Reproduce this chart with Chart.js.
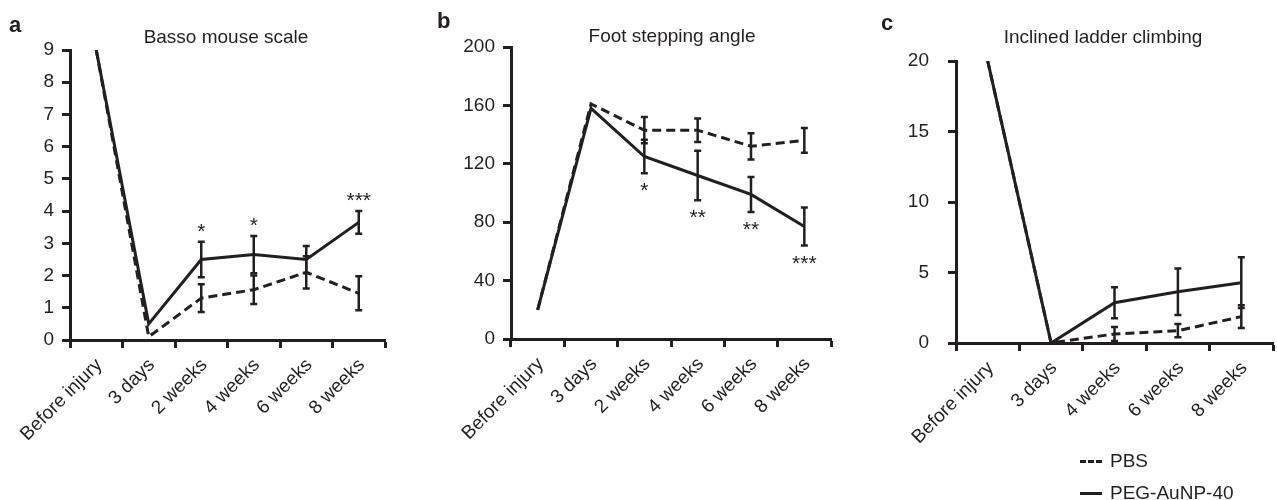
<!DOCTYPE html>
<html>
<head>
<meta charset="utf-8">
<script src="https://cdn.jsdelivr.net/npm/chart.js@4.4.1/dist/chart.umd.min.js"></script>
<style>
  body { margin: 0; background: #fff; font-family: "Liberation Sans", Arial, Helvetica, sans-serif; color: #231f20; }
  #wrap { position: relative; width: 1277px; height: 500px; overflow: hidden; }
  canvas { position: absolute; top: 0; }
  .letter { position: absolute; font-weight: bold; font-size: 22px; line-height: 1; }
  .title { position: absolute; font-size: 19px; line-height: 1; transform: translateX(-50%); white-space: nowrap; }
  .leg { position: absolute; font-size: 19px; line-height: 1; white-space: nowrap; }
  .leg span { display: inline-block; width: 22px; vertical-align: middle; margin-right: 8px; border-top: 3px solid #231f20; }
  .leg span.dash { border-top-style: dashed; }
</style>
</head>
<body>
<div id="wrap">
  <canvas id="bmsChart" width="430" height="500" style="left:0"></canvas>
  <canvas id="fsaChart" width="430" height="500" style="left:430px"></canvas>
  <canvas id="ilcChart" width="417" height="500" style="left:860px"></canvas>

  <div class="letter" style="left:9px;top:14px">a</div>
  <div class="letter" style="left:437px;top:10px">b</div>
  <div class="letter" style="left:881px;top:12px">c</div>

  <div class="title" style="left:226px;top:27px">Basso mouse scale</div>
  <div class="title" style="left:672px;top:26px">Foot stepping angle</div>
  <div class="title" style="left:1103px;top:27px">Inclined ladder climbing</div>

  <div class="leg" style="left:1080px;top:451px"><span class="dash"></span>PBS</div>
  <div class="leg" style="left:1080px;top:483px"><span></span>PEG-AuNP-40</div>
</div>

<script>
const INK = "#231f20";
const FONT = "'Liberation Sans', Arial, Helvetica, sans-serif";

// categories
const catsAB = ["Before injury", "3 days", "2 weeks", "4 weeks", "6 weeks", "8 weeks"];
const catsC = ["Before injury", "3 days", "4 weeks", "6 weeks", "8 weeks"];

// a - Basso mouse scale
const bmsPbs = [9, 0.1, 1.3, 1.56, 2.1, 1.45];
const bmsPbsErr = [0, 0, 0.43, 0.44, 0.5, 0.53];
const bmsPeg = [9, 0.5, 2.5, 2.65, 2.5, 3.65];
const bmsPegErr = [0, 0, 0.55, 0.58, 0.42, 0.35];
const bmsSig = ["", "", "*", "*", "", "***"];
const bmsTicks = [0, 1, 2, 3, 4, 5, 6, 7, 8, 9];

// b - Foot stepping angle
const fsaPbs = [20, 161, 143, 143, 132, 136];
const fsaPbsErr = [0, 0, 9, 8, 9, 8.5];
const fsaPeg = [20, 158, 125, 112, 99, 77];
const fsaPegErr = [0, 0, 11.5, 17, 12, 13];
const fsaSig = ["", "", "*", "**", "**", "***"];
const fsaTicks = [0, 40, 80, 120, 160, 200];

// c - Inclined ladder climbing
const ilcPbs = [20, 0, 0.64, 0.87, 1.87];
const ilcPbsErr = [0, 0, 0.5, 0.47, 0.8];
const ilcPeg = [20, 0, 2.86, 3.64, 4.28];
const ilcPegErr = [0, 0, 1.1, 1.65, 1.8];
const ilcSig = ["", "", "", "", ""];
const ilcTicks = [0, 5, 10, 15, 20];

// error bars + significance stars
const errorBars = {
  id: "errorBars",
  afterDatasetsDraw(chart, args, opts) {
    const ctx = chart.ctx;
    const y = chart.scales.y;
    ctx.save();
    ctx.strokeStyle = INK;
    ctx.lineWidth = 2.5;
    chart.data.datasets.forEach((ds, di) => {
      const meta = chart.getDatasetMeta(di);
      ds.errors.forEach((e, i) => {
        if (!e) return;
        const x = meta.data[i].x;
        const t = y.getPixelForValue(ds.data[i] + e);
        const b = y.getPixelForValue(ds.data[i] - e);
        ctx.beginPath();
        ctx.moveTo(x, t); ctx.lineTo(x, b);
        ctx.moveTo(x - 3.5, t); ctx.lineTo(x + 3.5, t);
        ctx.moveTo(x - 3.5, b); ctx.lineTo(x + 3.5, b);
        ctx.stroke();
      });
    });
    // stars sit on the PEG series
    const ds = chart.data.datasets[0];
    const meta = chart.getDatasetMeta(0);
    ctx.fillStyle = INK;
    ctx.font = "21px " + FONT;
    ctx.textAlign = "center";
    ctx.textBaseline = "alphabetic";
    opts.sig.forEach((s, i) => {
      if (!s) return;
      const x = meta.data[i].x;
      if (opts.above) {
        ctx.fillText(s, x, y.getPixelForValue(ds.data[i] + ds.errors[i]) - 4);
      } else {
        ctx.fillText(s, x, y.getPixelForValue(ds.data[i] - ds.errors[i]) + 24);
      }
    });
    ctx.restore();
  }
};

function makePanel(id, cats, peg, pegErr, pbs, pbsErr, ticks, sig, above, box) {
  const ctx = document.getElementById(id).getContext("2d");
  return new Chart(ctx, {
    type: "line",
    data: {
      labels: cats,
      datasets: [
        {
          label: "PEG-AuNP-40",
          data: peg,
          errors: pegErr,
          borderColor: INK,
          borderWidth: 3,
          pointRadius: 0,
          tension: 0,
          order: 0
        },
        {
          label: "PBS",
          data: pbs,
          errors: pbsErr,
          borderColor: INK,
          borderWidth: 3,
          borderDash: [9, 5],
          pointRadius: 0,
          tension: 0,
          order: 1
        }
      ]
    },
    options: {
      responsive: false,
      animation: false,
      devicePixelRatio: 1,
      layout: { padding: { top: box.top, right: box.right, left: 0, bottom: 0 } },
      plugins: {
        legend: { display: false },
        tooltip: { enabled: false },
        errorBars: { sig: sig, above: above }
      },
      scales: {
        x: {
          type: "category",
          offset: true,
          grid: {
            offset: true,
            drawOnChartArea: false,
            drawTicks: true,
            tickLength: 8,
            tickWidth: 3,
            tickColor: INK
          },
          border: { display: true, color: INK, width: 3 },
          ticks: {
            minRotation: 45,
            maxRotation: 45,
            autoSkip: false,
            padding: 6,
            labelOffset: 3,
            color: INK,
            font: { family: FONT, size: 19 }
          },
          afterFit(scale) { scale.height = 500 - box.bottom; }
        },
        y: {
          min: ticks[0],
          max: ticks[ticks.length - 1],
          afterBuildTicks(scale) { scale.ticks = ticks.map(v => ({ value: v })); },
          grid: {
            drawOnChartArea: false,
            drawTicks: true,
            tickLength: 8,
            tickWidth: 3,
            tickColor: INK
          },
          border: { display: true, color: INK, width: 3 },
          ticks: {
            padding: box.labelPad,
            color: INK,
            font: { family: FONT, size: 19 }
          },
          afterFit(scale) { scale.width = box.left; }
        }
      }
    },
    plugins: [errorBars]
  });
}

makePanel("bmsChart", catsAB, bmsPeg, bmsPegErr, bmsPbs, bmsPbsErr, bmsTicks, bmsSig, true,
  { left: 70, right: 45, top: 50, bottom: 340, labelPad: 8 });
makePanel("fsaChart", catsAB, fsaPeg, fsaPegErr, fsaPbs, fsaPbsErr, fsaTicks, fsaSig, false,
  { left: 81, right: 29, top: 47, bottom: 339, labelPad: 8 });
makePanel("ilcChart", catsC, ilcPeg, ilcPegErr, ilcPbs, ilcPbsErr, ilcTicks, ilcSig, true,
  { left: 96, right: 4, top: 61, bottom: 343, labelPad: 19 });
</script>
</body>
</html>
